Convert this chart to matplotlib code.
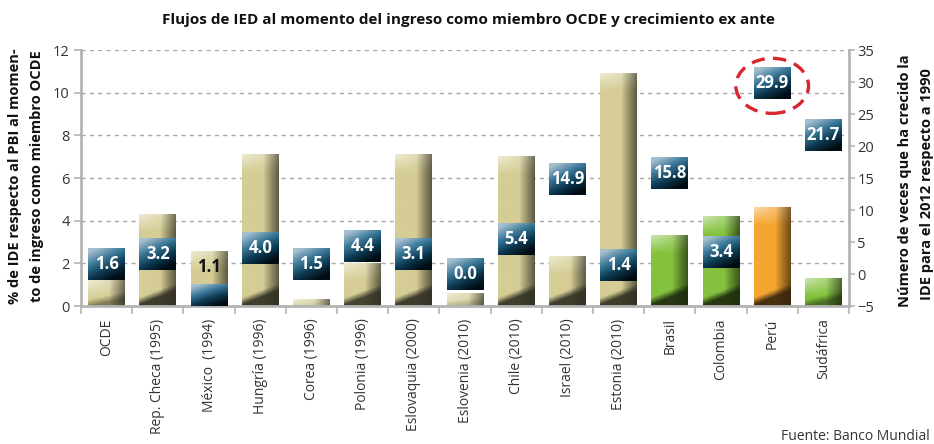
import numpy as np
import matplotlib
matplotlib.use('Agg')
import matplotlib.pyplot as plt
from matplotlib.colors import to_rgb, LinearSegmentedColormap
from matplotlib.patches import Ellipse

plt.rcParams['font.family'] = ['Open Sans', 'DejaVu Sans']

# Data
categories = ['OCDE', 'Rep. Checa (1995)', 'México  (1994)', 'Hungría (1996)',
              'Corea (1996)', 'Polonia (1996)', 'Eslovaquia (2000)',
              'Eslovenia (2010)', 'Chile (2010)', 'Israel (2010)',
              'Estonia (2010)', 'Brasil', 'Colombia', 'Perú', 'Sudáfrica']
ide_pbi = [1.2, 4.3, 2.55, 7.1, 0.3, 2.0, 7.1, 0.6, 7.0, 2.3, 10.9, 3.3, 4.2, 4.6, 1.3]
crecimiento = [1.6, 3.2, 1.1, 4.0, 1.5, 4.4, 3.1, 0.0, 5.4, 14.9, 1.4, 15.8, 3.4, 29.9, 21.7]
grupo = ['ocde'] * 11 + ['otro', 'otro', 'peru', 'otro']
mexico_tramo = 1.0   # dark segment at the base of the Mexico bar

BAR_COLORS = {'ocde': '#d5cd95', 'otro': '#84c23e', 'peru': '#f6a531'}
GREY = '#b4b4b4'
TXT = '#333333'

W, H = 934, 444
L, R, B, T = 81, 849, 306, 50
BAR_W = 0.72

fig = plt.figure(figsize=(W / 100, H / 100), dpi=100)
ax = fig.add_axes([L / W, 1 - B / H, (R - L) / W, (B - T) / H])
ax2 = ax.twinx()

px_x = (R - L) / 15
px_left = (B - T) / 12
px_right = (B - T) / 40

box_cmap = LinearSegmentedColormap.from_list(
    'box', ['#a6bfce', '#3d7b9b', '#0c3b53', '#020c13'])


def bar_img(color, h_px, w_px):
    """3D-ish shaded bar: light top-left, darker right edge, dark base."""
    ny = max(int(round(h_px)), 2)
    nx = max(int(round(w_px)), 2)
    u = np.linspace(0, 1, nx)[None, :]
    dt = np.arange(ny)[:, None] + 0.5
    db = ny - dt
    base = np.array(to_rgb(color))
    side = 1 - 0.55 * np.clip((u - 0.58) / 0.42, 0, 1) ** 0.9
    img = np.ones((ny, nx, 3)) * base * side[..., None]
    hl = np.clip(1 - dt / 18, 0, 1) * (1 - 0.8 * u)
    img = img + (1 - img) * (0.6 * hl)[..., None]
    scale = min(1.0, ny / 45)
    edge = (5 + 14 * u) * scale
    sh = np.clip((edge - db) / 7 + 0.5, 0, 1) * scale
    dark = base * 0.22
    img = img * (1 - 0.9 * sh[..., None]) + dark * 0.9 * sh[..., None]
    return np.clip(img, 0, 1)


def box_img(h_px, w_px):
    ny = max(int(round(h_px)), 2)
    nx = max(int(round(w_px)), 2)
    u = np.linspace(0, 1, nx)[None, :]
    v = np.linspace(0, 1, ny)[:, None]
    t = np.clip(0.8 * v + 0.45 * u - 0.1, 0, 1)
    return box_cmap(t)


x = np.arange(len(categories))

# bars (left axis)
for i, val in enumerate(ide_pbi):
    img = bar_img(BAR_COLORS[grupo[i]], val * px_left, BAR_W * px_x)
    ax.imshow(img, extent=(i - BAR_W / 2, i + BAR_W / 2, 0, val),
              aspect='auto', interpolation='bilinear', zorder=2)

# Mexico: dark base segment
mx = categories.index('México  (1994)')
ax.imshow(box_img(mexico_tramo * px_left, BAR_W * px_x),
          extent=(mx - BAR_W / 2, mx + BAR_W / 2, 0, mexico_tramo),
          aspect='auto', interpolation='bilinear', zorder=3)

# growth markers (right axis)
box_h = 5.0
for i, val in enumerate(crecimiento):
    if i == mx:
        ax2.text(i, val, f'{val:.1f}', ha='center', va='center', fontsize=12,
                 fontweight='bold', color='#111111', zorder=6)
        continue
    ax2.imshow(box_img(box_h * px_right, BAR_W * px_x),
               extent=(i - BAR_W / 2, i + BAR_W / 2, val - box_h / 2, val + box_h / 2),
               aspect='auto', interpolation='bilinear', zorder=4)
    ax2.text(i, val, f'{val:.1f}', ha='center', va='center', fontsize=12,
             fontweight='bold', color='white', zorder=6)

# highlight Peru
pe = categories.index('Perú')
ax2.add_patch(Ellipse((pe, crecimiento[pe] - 0.5), 1.42, 8.6, fill=False,
                      ec='#d7262e', lw=2.4, ls=(0, (4, 2.5)), zorder=7))

# axes styling
ax.set_xlim(-0.5, len(categories) - 0.5)
ax.set_ylim(0, 12)
ax2.set_ylim(-5, 35)
ax.set_yticks(np.arange(0, 13, 2))
ax2.set_yticks(np.arange(-5, 36, 5))
ax.yaxis.grid(True, ls=(0, (3, 3)), color='#a8a8a8', lw=1)
ax.set_axisbelow(True)

ax.set_xticks(x)
ax.set_xticklabels(categories, rotation=90, fontsize=10, color=TXT, va='top')
ax.set_xticks(np.arange(-0.5, len(categories)), minor=True)
ax.tick_params(axis='x', which='major', length=0, pad=9)
ax.tick_params(axis='x', which='minor', length=6, width=1.2, color=GREY)
ax.tick_params(axis='y', direction='out', length=5, width=1.2, color=GREY,
               labelsize=10.5, labelcolor=TXT, pad=3)
ax2.tick_params(axis='y', direction='out', length=4, width=1.2, color=GREY,
                labelsize=10.5, labelcolor=TXT, pad=2)

for a in (ax, ax2):
    a.spines['top'].set_visible(False)
ax2.spines['left'].set_visible(False)
ax2.spines['bottom'].set_visible(False)
for s in ('left', 'bottom'):
    ax.spines[s].set_color(GREY)
    ax.spines[s].set_linewidth(2)
ax.spines['right'].set_visible(False)
ax2.spines['right'].set_color(GREY)
ax2.spines['right'].set_linewidth(2)

# texts
fig.text(468 / W, 1 - 20 / H,
         'Flujos de IED al momento del ingreso como miembro OCDE y crecimiento ex ante',
         ha='center', va='center', fontsize=11, fontweight='bold', color='#111111')
fig.text(15 / W, 1 - 176 / H, '% de IDE respecto al PBI al momen-', rotation=90,
         ha='center', va='center', fontsize=10.5, fontweight='bold', color='#111111')
fig.text(37 / W, 1 - 176 / H, 'to de ingreso como miembro OCDE', rotation=90,
         ha='center', va='center', fontsize=10.5, fontweight='bold', color='#111111')
fig.text(905 / W, 1 - 181 / H, 'Número de veces que ha crecido la', rotation=90,
         ha='center', va='center', fontsize=10.5, fontweight='bold', color='#111111')
fig.text(927 / W, 1 - 184 / H, 'IDE para el 2012 respecto a 1990', rotation=90,
         ha='center', va='center', fontsize=10.5, fontweight='bold', color='#111111')
fig.text(930 / W, 1 - 436 / H, 'Fuente: Banco Mundial', ha='right', va='center',
         fontsize=10, color=TXT)

fig.savefig('out.png', dpi=100, facecolor='white')
